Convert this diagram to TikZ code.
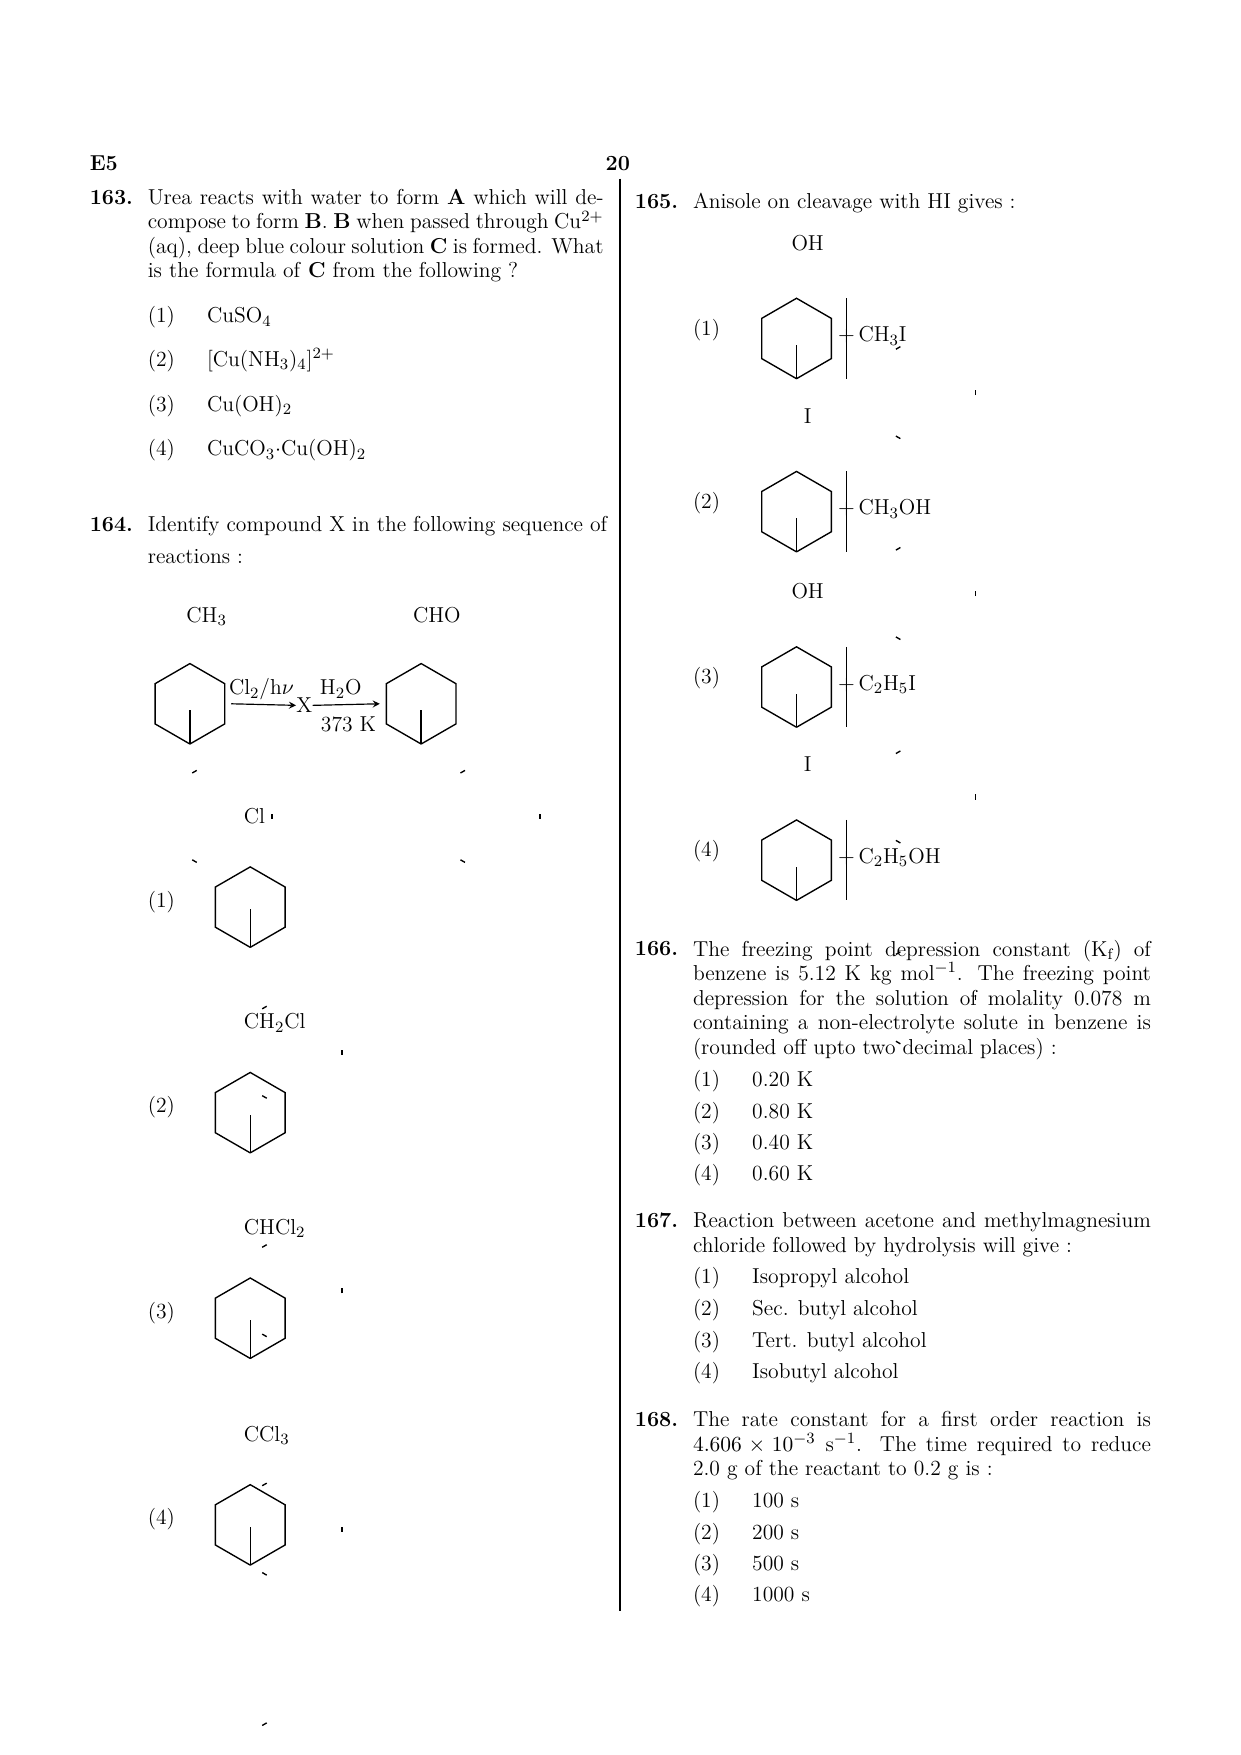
\documentclass[tikz,border=0pt]{standalone}
\usepackage{amsmath}
\usepackage{tikz}
\usetikzlibrary{positioning, arrows.meta, calc}
\tikzstyle{bond} = [line width=0.7pt]
\tikzstyle{arrow} = [line width=0.6pt, ->, >=stealth]
\tikzset{
  txt/.style={anchor=base west, inner sep=0pt, font=\fontsize{11}{12.5}\selectfont},
  par/.style={anchor=north west, inner sep=0pt, text width=8.16cm, align=justify, font=\fontsize{11}{12.5}\selectfont},
  qnum/.style={anchor=base west, inner sep=0pt, font=\fontsize{11}{12.5}\selectfont\bfseries},
  sub/.style={anchor=base, inner sep=0pt, font=\fontsize{11}{12.5}\selectfont}
}
% benzene ring: name, x, y
\newcommand\benz[3]{%
  \coordinate (#1) at (#2,#3);
  \coordinate (#1t) at ($(#1)+(90:36)$);
  \draw[bond] ($(#1)+(90:36)$) \foreach \a in {150,210,...,450} { -- ($(#1)+(\a:36)$) };
  \foreach \a in {90,210,330}
    \draw[bond] ($(#1)+(\a:29)!0.16!(#1)+(\a+60:29)$) -- ($(#1)+(\a+60:29)!0.16!(#1)+(\a:29)$);
}
\begin{document}
\begin{tikzpicture}[x=0.02cm, y=-0.02cm]
  \useasboundingbox[fill=white] (0,0) rectangle (1110,1571);

  % header
  \node[qnum] (page) at (80,153) {E5};
  \node[qnum, anchor=base] (pno) at (553,153) {20};
  \coordinate (divtop) at (555,160);
  \coordinate (divbot) at (555,1442);
  \draw[line width=0.8pt] (divtop) -- (divbot);

  % Q163
  \node[qnum] (q163) at (80,183) {163.};
  \node[par] (t163) at (132,169) {Urea reacts with water to form \textbf{A} which will decompose to form \textbf{B}. \textbf{B} when passed through Cu$^{2+}$ (aq), deep blue colour solution \textbf{C} is formed. What is the formula of \textbf{C} from the following ?};
  \node[txt] (o163a) at (132,289) {(1)};  \node[txt] (a163a) at (185,289) {CuSO$_4$};
  \node[txt] (o163b) at (132,328) {(2)};  \node[txt] (a163b) at (185,328) {[Cu(NH$_3$)$_4$]$^{2+}$};
  \node[txt] (o163c) at (132,368) {(3)};  \node[txt] (a163c) at (185,368) {Cu(OH)$_2$};
  \node[txt] (o163d) at (132,408) {(4)};  \node[txt] (a163d) at (185,408) {CuCO$_3$$\cdot$Cu(OH)$_2$};

  % Q164
  \node[qnum] (q164) at (80,476) {164.};
  \node[txt] (t164a) at (132,476) {Identify compound X in the following sequence of};
  \node[txt] (t164b) at (132,504) {reactions :};

  % reaction scheme
  \benz{tol}{170}{630}
  \node[sub] (ch3) at (185,557) {CH$_3$};
  \draw[bond] (tolt) -- ++(0,-30);
  \node[txt] (xx) at (265,638) {X};
  \coordinate (r1s) at (207,630);
  \draw[arrow] (r1s) -- (xx.west);
  \node[sub] (cond1) at (234,622) {Cl$_2$/h$\nu$};
  \benz{ald}{377}{630}
  \node[sub] (cho) at (391,557) {CHO};
  \draw[bond] (aldt) -- ++(0,-30);
  \coordinate (r2e) at (340,630);
  \draw[arrow] (xx.east) -- (r2e);
  \node[sub] (cond2) at (305,622) {H$_2$O};
  \node[sub] (cond3) at (312,655) {373 K};

  % options 164
  \foreach \n/\yy/\lab in {1/812/Cl, 2/996/CH$_2$Cl, 3/1180/CHCl$_2$, 4/1365/CCl$_3$} {
    \node[txt] (o164\n) at (132,\yy) {(\n)};
    \benz{r164\n}{224}{\yy}
    \draw[bond] (r164\n t) -- ++(0,-34);
    \node[sub, anchor=base west] (s164\n) at (218,\yy-75) {\lab};
  }

  % Q165
  \node[qnum] (q165) at (568,187) {165.};
  \node[txt] (t165) at (620,187) {Anisole on cleavage with HI gives :};
  \foreach \n/\yy/\lab/\prod in {1/300/OH/CH$_3$I, 2/455/I/CH$_3$OH, 3/612/OH/C$_2$H$_5$I, 4/767/I/C$_2$H$_5$OH} {
    \node[txt] (o165\n) at (620,\yy) {(\n)};
    \benz{r165\n}{713}{\yy+3}
    \draw[bond] (r165\n t) -- ++(0,-30);
    \node[sub] (s165\n) at (723,\yy-76) {\lab};
    \node[txt] (p165\n) at (750,\yy+6) {$+\,$\prod};
  }
  \foreach \n in {1,...,4}
    \draw[bond] ($(r165\n)+(45,-36)$) -- ($(r165\n)+(45,36)$);

  % Q166
  \node[qnum] (q166) at (568,855) {166.};
  \node[par, text width=8.2cm] (t166) at (620,841) {The freezing point depression constant (K$_{\text{f}}$) of benzene is 5.12 K kg mol$^{-1}$. The freezing point depression for the solution of molality 0.078 m containing a non-electrolyte solute in benzene is (rounded off upto two decimal places) :};
  \foreach \n/\yy/\ans in {1/973/0.20 K, 2/1001/0.80 K, 3/1029/0.40 K, 4/1057/0.60 K} {
    \node[txt] (o166\n) at (620,\yy) {(\n)};
    \node[txt] (a166\n) at (673,\yy) {\ans};
  }

  % Q167
  \node[qnum] (q167) at (568,1099) {167.};
  \node[par, text width=8.2cm] (t167) at (620,1085) {Reaction between acetone and methylmagnesium chloride followed by hydrolysis will give :};
  \foreach \n/\yy/\ans in {1/1149/Isopropyl alcohol, 2/1178/Sec. butyl alcohol, 3/1206/Tert. butyl alcohol, 4/1234/Isobutyl alcohol} {
    \node[txt] (o167\n) at (620,\yy) {(\n)};
    \node[txt] (a167\n) at (673,\yy) {\ans};
  }

  % Q168
  \node[qnum] (q168) at (568,1277) {168.};
  \node[par, text width=8.2cm] (t168) at (620,1263) {The rate constant for a first order reaction is $4.606\times10^{-3}$ s$^{-1}$. The time required to reduce 2.0 g of the reactant to 0.2 g is :};
  \foreach \n/\yy/\ans in {1/1349/100 s, 2/1378/200 s, 3/1406/500 s, 4/1434/1000 s} {
    \node[txt] (o168\n) at (620,\yy) {(\n)};
    \node[txt] (a168\n) at (673,\yy) {\ans};
  }
\end{tikzpicture}
\end{document}
